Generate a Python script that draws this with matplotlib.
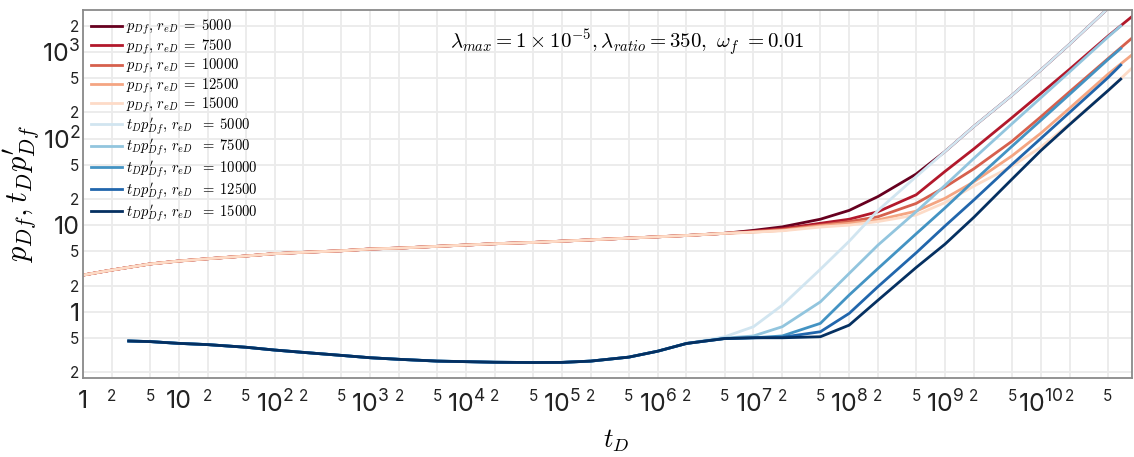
import numpy as np
import matplotlib.pyplot as plt

plt.rcParams['mathtext.fontset'] = 'cm'
plt.rcParams['font.family'] = ['Inter', 'DejaVu Sans']

# ---------------- data ----------------
# p_Df : all curves coincide up to ~5e6
t_p_early = [1, 2, 5, 1e1, 2e1, 5e1, 1e2, 2e2, 5e2, 1e3, 2e3, 5e3, 1e4, 2e4, 5e4,
             1e5, 2e5, 5e5, 1e6, 2e6, 5e6]
p_early = [2.65, 3.03, 3.56, 3.85, 4.09, 4.40, 4.68, 4.85, 5.06, 5.30, 5.43, 5.69, 5.89,
           6.10, 6.31, 6.53, 6.76, 7.08, 7.33, 7.59, 8.04]

t_p_late = [1e7, 2e7, 5e7, 1e8, 2e8, 5e8, 1e9, 2e9, 5e9, 1e10, 2e10, 5e10, 8.9e10]
p_5000 = [8.7, 9.55, 11.7, 14.8, 21.4, 38.9, 70.8, 138, 316, 617, 1230, 3160, 6000]
p_7500 = [8.5, 9.1, 10.5, 11.7, 14.3, 22.4, 41.7, 75.9, 174, 331, 631, 1514, 2547]
p_10000 = [8.41, 8.9, 10.0, 11.0, 12.5, 17.8, 27.5, 44.7, 93, 178, 347, 832, 1435]
p_12500 = [8.3, 8.7, 9.8, 10.5, 11.5, 14.5, 20.4, 31.6, 63, 115, 224, 550, 920]
p_15000 = [8.3, 8.6, 9.5, 10.0, 11.0, 13.1, 18.2, 28.2, 47.9, 79.4, 148, 355, 646]

# t_D p'_Df : all curves coincide up to ~2e6
t_d_early = [3, 5, 1e1, 2e1, 5e1, 1e2, 2e2, 5e2, 1e3, 2e3, 5e3, 1e4, 2e4, 5e4,
             1e5, 2e5, 5e5, 1e6, 2e6]
d_early = [0.459, 0.452, 0.431, 0.417, 0.389, 0.361, 0.339, 0.313, 0.294, 0.282, 0.269,
           0.265, 0.261, 0.259, 0.260, 0.269, 0.299, 0.350, 0.430]

t_d_late = [5e6, 1e7, 2e7, 5e7, 1e8, 2e8, 5e8, 1e9, 2e9, 5e9, 1e10, 2e10, 5e10, 6.84e10]
d_5000 = [0.513, 0.671, 1.19, 3.09, 6.53, 14.8, 36.3, 70.8, 138, 316, 617, 1230, 3160, 4500]
d_7500 = [0.495, 0.525, 0.671, 1.30, 2.77, 5.89, 14.3, 28.8, 58.9, 148, 295, 589, 1479, 1995]
d_10000 = [0.49, 0.50, 0.525, 0.734, 1.56, 3.16, 7.94, 15.8, 32.4, 81.3, 162, 324, 813, 1096]
d_12500 = [0.49, 0.50, 0.507, 0.587, 0.957, 1.95, 4.79, 9.77, 19.5, 50.1, 100, 200, 501, 706]
d_15000 = [0.49, 0.50, 0.50, 0.514, 0.70, 1.36, 3.24, 6.03, 12.3, 33.9, 72.4, 145, 355, 486]

reD = ['5000', '7500', '10000', '12500', '15000']
p_late = [p_5000, p_7500, p_10000, p_12500, p_15000]
d_late = [d_5000, d_7500, d_10000, d_12500, d_15000]
reds = ['#67001f', '#b2182b', '#d6604d', '#f4a582', '#fddbc7']
blues = ['#d1e5f0', '#92c5de', '#4393c3', '#2166ac', '#053061']

# ---------------- figure ----------------
fig = plt.figure(figsize=(11.34, 4.57), dpi=100)
ax = fig.add_axes([83/1134, 1-377.7/457, (1131.7-83)/1134, (377.7-10)/457])

for i in range(5):
    ax.plot(t_p_early + t_p_late, p_early + p_late[i], color=reds[i], lw=2,
            label=r'$p_{Df},\,r_{eD}\;=\;%s$' % reD[i])
for i in range(5):
    ax.plot(t_d_early + t_d_late, d_early + d_late[i], color=blues[i], lw=2,
            label=r"$t_Dp^{\prime}_{Df},\,r_{eD}\ \;=\;%s$" % reD[i])

ax.set_xscale('log')
ax.set_yscale('log')
ax.set_xlim(1, 8.9e10)
ax.set_ylim(0.173, 3050)

# ticks: big labels at decades, small "2" and "5" in between
xmaj = [10.0**k for k in range(11)]
xmaj_lab = ['1', '10'] + [r'$\mathregular{10^{%d}}$' % k for k in range(2, 11)]
xmin = [m * 10.0**k for k in range(11) for m in (2, 5)]
xmin_lab = [str(m) for k in range(11) for m in (2, 5)]
ax.set_xticks(xmaj, xmaj_lab)
ax.set_xticks(xmin, xmin_lab, minor=True)

ymaj = [1, 10, 100, 1000]
ymaj_lab = ['1', '10', r'$\mathregular{10^{2}}$', r'$\mathregular{10^{3}}$']
ymin = [0.2, 0.5, 2, 5, 20, 50, 200, 500, 2000]
ymin_lab = ['2', '5', '2', '5', '2', '5', '2', '5', '2']
ax.set_yticks(ymaj, ymaj_lab)
ax.set_yticks(ymin, ymin_lab, minor=True)

ax.tick_params(which='both', length=0, colors='#222222')
ax.tick_params(axis='x', which='major', labelsize=18, pad=9)
ax.tick_params(axis='x', which='minor', labelsize=11, pad=8)
ax.tick_params(axis='y', which='major', labelsize=18, pad=2)
ax.tick_params(axis='y', which='minor', labelsize=11, pad=3)

ax.grid(which='both', color='#ebebeb', lw=1.3)
ax.set_axisbelow(True)
for s in ax.spines.values():
    s.set_color('#8a8a8a')
    s.set_linewidth(1.3)

fig.text(616/1134, 1-441/457, r'$t_D$', fontsize=19, ha='center', va='center')
ax.set_ylabel(r"$p_{Df},t_Dp^{\prime}_{Df}$", fontsize=22, labelpad=0)

ax.text(0.519, 0.91, r'$\lambda_{max}=1\times10^{-5},\lambda_{ratio}=350,\ \omega_f\ =0.01$',
        transform=ax.transAxes, ha='center', va='center', fontsize=15)

ax.legend(loc='upper left', bbox_to_anchor=(0.0, 1.0), frameon=False, fontsize=10.5,
          handlelength=2.1, handletextpad=0.3, labelspacing=0.0, borderaxespad=0.15)

plt.savefig('out.png', dpi=100)
